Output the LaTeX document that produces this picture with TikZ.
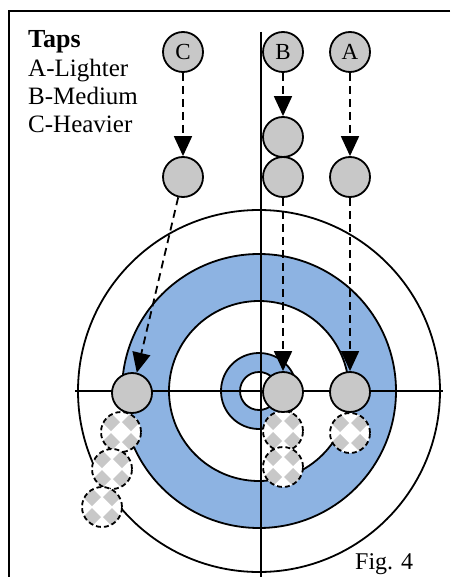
\documentclass[tikz,border=0pt]{standalone}
\usepackage{fontspec}
\setmainfont{Liberation Serif}
\usetikzlibrary{arrows.meta}
\definecolor{ringblue}{HTML}{8DB3E2}
\definecolor{stonegray}{HTML}{C8C8C8}
\begin{document}
\begin{tikzpicture}[x=1pt,y=-1pt,
  ln/.style={line width=1.8pt},
  stone/.style={circle, draw, line width=1.8pt, fill=stonegray,
    minimum size=40pt, inner sep=0pt, font=\fontsize{23}{23}\selectfont},
  ghost/.style={circle, draw, dash pattern=on 5pt off 3pt, line width=1.8pt,
    fill=white, minimum size=40pt, inner sep=0pt,
    path picture={\foreach \dx/\dy in {-10/-10,10/-10,-10/10,10/10}{
      \fill[stonegray] ([shift={(\dx pt,\dy pt)}]path picture bounding box.center)
        +(-9pt,0pt) -- +(0pt,9pt) -- +(9pt,0pt) -- +(0pt,-9pt) -- cycle;}}},
  tap/.style={line width=1.8pt, dash pattern=on 8pt off 5pt,
    -{Triangle[length=20pt,width=18pt]}},
  lbl/.style={anchor=base west, inner sep=0pt, font=\fontsize{25}{28}\selectfont}]
\useasboundingbox (0,0) rectangle (450,577);

% frame
\draw[line width=2.2pt] (450,11) -- (9,11) -- (9,577);

% house
\draw[ln, fill=white] (259,391) circle (181pt);
\draw[ln, fill=ringblue] (259,391) circle (137pt);
\draw[ln, fill=white] (259,391) circle (90pt);
\draw[ln, fill=ringblue] (259,391) circle (38pt);
\draw[ln, fill=white] (259,391) circle (19pt);
\draw[ln] (75,391) -- (443,391);
\draw[ln] (261,32) -- (261,577);

% legend
\node[lbl, font=\fontsize{26}{28}\selectfont\bfseries] (title) at (28,48) {Taps};
\node[lbl] (la) at (28,77) {A-Lighter};
\node[lbl] (lb) at (28,105) {B-Medium};
\node[lbl] (lc) at (28,133) {C-Heavier};
\node[anchor=base west, inner sep=0pt, font=\fontsize{24}{24}\selectfont] (fig) at (355,569) {Fig. 4};

% stones before the taps
\node[stone] (C0) at (183,52) {C};
\node[stone] (B0) at (283,52) {B};
\node[stone] (A0) at (350,52) {A};
\node[stone] (C1) at (183,177) {};
\node[stone] (B1) at (283,137) {};
\node[stone] (B2) at (283,177) {};
\node[stone] (A1) at (350,177) {};

% earlier resting places
\node[ghost] (gA) at (350,433) {};
\node[ghost] (gB1) at (283,431) {};
\node[ghost] (gB2) at (283,467) {};
\node[ghost] (gC1) at (121,432) {};
\node[ghost] (gC2) at (112,469) {};
\node[ghost] (gC3) at (102,507) {};

% stones after the taps
\node[stone] (C2) at (132,393) {};
\node[stone] (B3) at (283,392) {};
\node[stone] (A2) at (350,392) {};

% taps
\draw[tap] (C0) -- (C1);
\draw[tap] (B0) -- (B1);
\draw[tap] (A0) -- (A1);
\draw[tap] (C1) -- (C2);
\draw[tap] (B2) -- (B3);
\draw[tap] (A1) -- (A2);
\end{tikzpicture}
\end{document}
